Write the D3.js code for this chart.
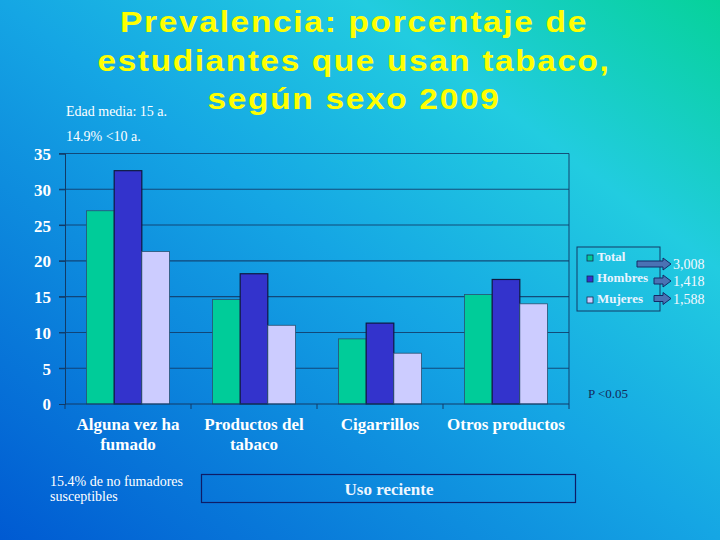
<!DOCTYPE html>
<html>
<head>
<meta charset="utf-8">
<script src="https://cdn.jsdelivr.net/npm/d3@7"></script>
<style>
  html, body { margin: 0; padding: 0; background: #0a90dc; }
  svg { display: block; }
</style>
</head>
<body>
<svg id="chart" width="720" height="540"></svg>
<script>
// ---- data ----
const categories = [["Alguna vez ha", "fumado"], ["Productos del", "tabaco"], ["Cigarrillos"], ["Otros productos"]];
const seriesNames = ["Total", "Hombres", "Mujeres"];
const totalValues = [27.0, 14.6, 9.1, 15.3];
const hombresValues = [32.6, 18.2, 11.3, 17.4];
const mujeresValues = [21.3, 11.0, 7.1, 14.0];
const yTicks = [0, 5, 10, 15, 20, 25, 30, 35];
const sampleSizes = ["3,008", "1,418", "1,588"];
const titleLines = ["Prevalencia: porcentaje de", "estudiantes que usan tabaco,", "según sexo 2009"];
const notesTop = ["Edad media: 15 a.", "14.9% <10 a."];
const notesBottom = ["15.4% de no fumadores", "susceptibles"];
const pNote = "P <0.05";
const boxLabel = "Uso reciente";

const colors = ["#00cc99", "#3333cc", "#ccccff"];
const seriesValues = [totalValues, hombresValues, mujeresValues];

const svg = d3.select("#chart");
const W = 720, H = 540;

// background gradient
const defs = svg.append("defs");
const grad = defs.append("linearGradient").attr("id", "bg")
  .attr("x1", 0).attr("y1", 1).attr("x2", 1).attr("y2", 0);
[[0, "#005ad2"], [0.5, "#15a6e4"], [0.75, "#22cce0"], [1, "#06d29a"]].forEach(s =>
  grad.append("stop").attr("offset", s[0]).attr("stop-color", s[1]));
svg.append("rect").attr("width", W).attr("height", H).attr("fill", "url(#bg)");

// title
const titleWidths = [468, 513, 293];
svg.append("g").selectAll("text").data(titleLines).join("text")
  .attr("x", 354).attr("y", (d, i) => 32 + i * 38.5)
  .attr("text-anchor", "middle")
  .attr("font-family", "'Liberation Sans', Arial, sans-serif")
  .attr("font-weight", "bold").attr("font-size", 30)
  .attr("letter-spacing", 1.5)
  .attr("fill", "#ffff00")
  .attr("textLength", (d, i) => titleWidths[i])
  .attr("lengthAdjust", "spacingAndGlyphs")
  .text(d => d);

// plot geometry
const pLeft = 65, pRight = 569, pTop = 153.5, pBottom = 404;
const x0 = d3.scaleBand().domain(d3.range(categories.length)).range([pLeft, pRight]).padding(0);
const x1 = d3.scaleBand().domain(seriesNames).range([0, x0.bandwidth()]).paddingInner(0).paddingOuter(0.78);
const y = d3.scaleLinear().domain([0, 35]).range([pBottom, pTop]);

const lineColor = "#123a66";

// gridlines
svg.append("g").selectAll("line").data(yTicks.filter(t => t > 0)).join("line")
  .attr("x1", pLeft - 6).attr("x2", pRight)
  .attr("y1", d => y(d)).attr("y2", d => y(d))
  .attr("stroke", lineColor).attr("stroke-width", 1.1).attr("stroke-opacity", 0.85);
// right border
svg.append("line").attr("x1", pRight).attr("x2", pRight).attr("y1", pTop).attr("y2", pBottom)
  .attr("stroke", lineColor).attr("stroke-width", 1.1).attr("stroke-opacity", 0.85);

// bars
const groups = svg.append("g").selectAll("g").data(categories.map((c, i) => i)).join("g")
  .attr("transform", i => `translate(${x0(i)},0)`);
groups.selectAll("rect").data(i => seriesNames.map((s, k) => ({ s, k, v: seriesValues[k][i] }))).join("rect")
  .attr("x", d => x1(d.s)).attr("width", x1.bandwidth())
  .attr("y", d => y(d.v)).attr("height", d => pBottom - y(d.v))
  .attr("fill", d => colors[d.k])
  .attr("stroke", d => d.k === 1 ? "#101840" : "#2a5070")
  .attr("stroke-width", d => d.k === 1 ? 1.2 : 0.8);

// y axis
const yAxis = svg.append("g").attr("transform", `translate(${pLeft},0)`)
  .call(d3.axisLeft(y).tickValues(yTicks).tickSize(6).tickFormat(d3.format("d")));
yAxis.select(".domain").attr("stroke", lineColor);
yAxis.selectAll(".tick line").attr("stroke", lineColor);
yAxis.selectAll(".tick text")
  .attr("x", -14).attr("dy", "0.35em")
  .attr("font-family", "'Liberation Serif', 'Times New Roman', serif")
  .attr("font-weight", "bold").attr("font-size", 17).attr("fill", "#ffffff");

// x axis
const xAxis = svg.append("g").attr("transform", `translate(0,${pBottom})`);
xAxis.append("line").attr("x1", pLeft).attr("x2", pRight).attr("y1", 0).attr("y2", 0)
  .attr("stroke", lineColor).attr("stroke-width", 1.1);
xAxis.selectAll("line.tk").data(d3.range(categories.length + 1)).join("line").attr("class", "tk")
  .attr("x1", i => pLeft + i * x0.bandwidth()).attr("x2", i => pLeft + i * x0.bandwidth())
  .attr("y1", 0).attr("y2", 5).attr("stroke", lineColor);
const xl = xAxis.selectAll("text").data(categories).join("text")
  .attr("text-anchor", "middle")
  .attr("font-family", "'Liberation Serif', 'Times New Roman', serif")
  .attr("font-weight", "bold").attr("font-size", 17).attr("fill", "#ffffff");
xl.each(function (d, i) {
  const t = d3.select(this);
  d.forEach((line, j) => t.append("tspan")
    .attr("x", x0(i) + x0.bandwidth() / 2).attr("y", 25.5 + j * 20).text(line));
});

// legend
const lg = svg.append("g");
lg.append("rect").attr("x", 577).attr("y", 247).attr("width", 83).attr("height", 64)
  .attr("fill", "none").attr("stroke", lineColor).attr("stroke-width", 1);
const legRows = [258, 279, 300];
seriesNames.forEach((s, k) => {
  lg.append("rect").attr("x", 587).attr("y", legRows[k] - 3).attr("width", 6).attr("height", 6)
    .attr("fill", colors[k]).attr("stroke", "#1a2a50").attr("stroke-width", 0.8);
  lg.append("text").attr("x", 597).attr("y", legRows[k] + 2.5)
    .attr("font-family", "'Liberation Serif', 'Times New Roman', serif")
    .attr("font-weight", "bold").attr("font-size", 13).attr("fill", "#eaf4ff").text(s);
});

// arrows + sample sizes
const arrowStarts = [637, 654, 654];
const arrowY = [264, 281, 298.5];
sampleSizes.forEach((n, k) => {
  const xs = arrowStarts[k], xe = 671, cy = arrowY[k], hx = xe - 8;
  const pts = [[xs, cy - 3], [hx, cy - 3], [hx, cy - 6], [xe, cy], [hx, cy + 6], [hx, cy + 3], [xs, cy + 3]];
  svg.append("path").attr("d", d3.line()(pts) + "Z")
    .attr("fill", "#4a72b4").attr("stroke", "#142a66").attr("stroke-width", 1);
  svg.append("text").attr("x", 673).attr("y", cy + 5)
    .attr("font-family", "'Liberation Serif', 'Times New Roman', serif")
    .attr("font-size", 14).attr("fill", "#f4f8ff").text(n);
});

// notes
const serif = "'Liberation Serif', 'Times New Roman', serif";
svg.append("g").selectAll("text").data(notesTop).join("text")
  .attr("x", 66).attr("y", (d, i) => 115.5 + i * 25)
  .attr("font-family", serif).attr("font-size", 14).attr("fill", "#ffffff").text(d => d);
svg.append("g").selectAll("text").data(notesBottom).join("text")
  .attr("x", 50).attr("y", (d, i) => 485.5 + i * 15.5)
  .attr("font-family", serif).attr("font-size", 14).attr("fill", "#ffffff").text(d => d);
svg.append("text").attr("x", 588).attr("y", 398)
  .attr("font-family", serif).attr("font-size", 13).attr("fill", "#142a5a").text(pNote);

// "Uso reciente" box
svg.append("rect").attr("x", 201.5).attr("y", 474.5).attr("width", 374).attr("height", 28)
  .attr("fill", "none").attr("stroke", "#0e1c66").attr("stroke-width", 1.2);
svg.append("text").attr("x", 389).attr("y", 495).attr("text-anchor", "middle")
  .attr("font-family", serif).attr("font-weight", "bold").attr("font-size", 17)
  .attr("fill", "#eef6ff").text(boxLabel);
</script>
</body>
</html>
